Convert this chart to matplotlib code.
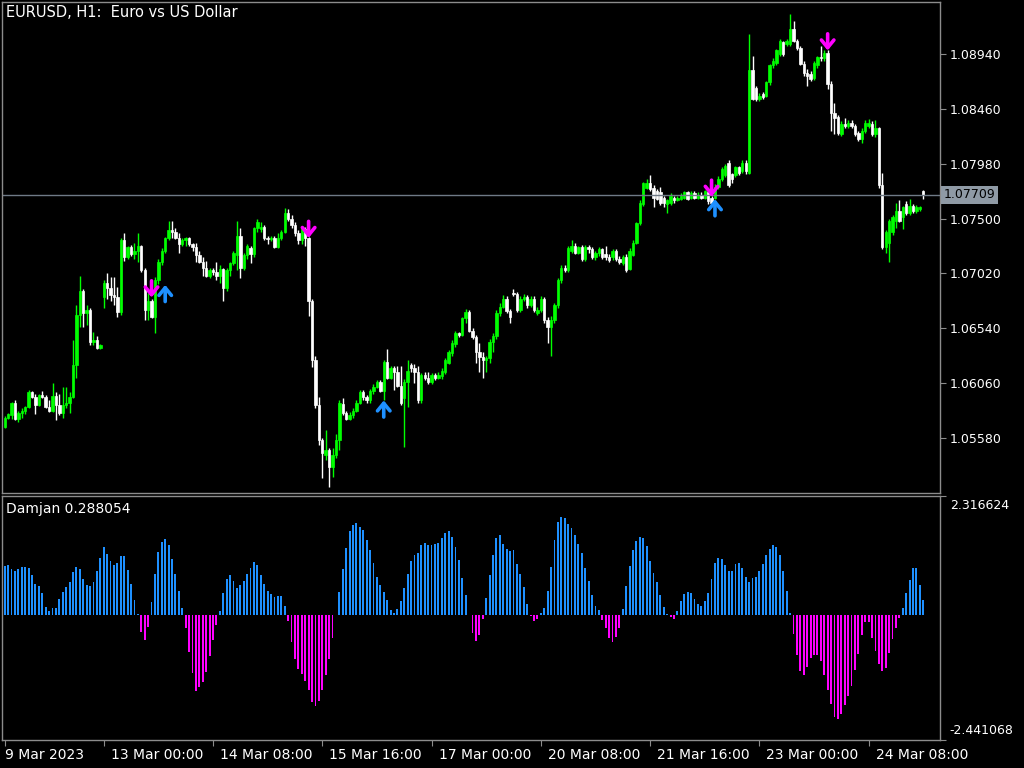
import numpy as np
import matplotlib.pyplot as plt
from matplotlib.transforms import blended_transform_factory, ScaledTranslation

# ===== EURUSD H1 candles =====
opens = [
    1.0568, 1.0576, 1.0578, 1.0589, 1.0575, 1.0580, 1.0582, 1.0585, 1.0598, 1.0594,
    1.0587, 1.0596, 1.0594, 1.0585, 1.0582, 1.0595, 1.0587, 1.0580, 1.0587, 1.0589,
    1.0594, 1.0622, 1.0666, 1.0687, 1.0667, 1.0670, 1.0642, 1.0644, 1.0637, 1.0681,
    1.0694, 1.0689, 1.0683, 1.0681, 1.0668, 1.0731, 1.0716, 1.0725, 1.0719, 1.0722,
    1.0726, 1.0705, 1.0670, 1.0678, 1.0664, 1.0696, 1.0712, 1.0722, 1.0733, 1.0740,
    1.0738, 1.0733, 1.0728, 1.0731, 1.0733, 1.0728, 1.0725, 1.0718, 1.0712, 1.0707,
    1.0700, 1.0705, 1.0703, 1.0700, 1.0706, 1.0689, 1.0705, 1.0711, 1.0718, 1.0735,
    1.0707, 1.0718, 1.0724, 1.0719, 1.0742, 1.0741, 1.0743, 1.0733, 1.0732, 1.0733,
    1.0725, 1.0733, 1.0738, 1.0755, 1.0750, 1.0744, 1.0737, 1.0731, 1.0741, 1.0733,
    1.0678, 1.0626, 1.0587, 1.0556, 1.0543, 1.0548, 1.0533, 1.0543, 1.0556, 1.0588,
    1.0580, 1.0575, 1.0578, 1.0582, 1.0589, 1.0598, 1.0594, 1.0591, 1.0599, 1.0603,
    1.0607, 1.0599, 1.0625, 1.0611, 1.0619, 1.0616, 1.0604, 1.0593, 1.0607, 1.0622,
    1.0619, 1.0616, 1.0591, 1.0613, 1.0611, 1.0607, 1.0613, 1.0611, 1.0612, 1.0616,
    1.0624, 1.0632, 1.0640, 1.0650, 1.0648, 1.0663, 1.0668, 1.0652, 1.0646, 1.0633,
    1.0629, 1.0626, 1.0628, 1.0642, 1.0647, 1.0667, 1.0673, 1.0680, 1.0669, 1.0685,
    1.0684, 1.0670, 1.0680, 1.0681, 1.0674, 1.0680, 1.0667, 1.0670, 1.0680, 1.0661,
    1.0655, 1.0661, 1.0674, 1.0696, 1.0707, 1.0705, 1.0722, 1.0726, 1.0720, 1.0725,
    1.0715, 1.0725, 1.0723, 1.0716, 1.0720, 1.0723, 1.0719, 1.0716, 1.0716, 1.0722,
    1.0715, 1.0711, 1.0716, 1.0706, 1.0718, 1.0729, 1.0746, 1.0763, 1.0777, 1.0781,
    1.0777, 1.0774, 1.0773, 1.0768, 1.0763, 1.0764, 1.0768, 1.0766, 1.0767, 1.0768,
    1.0773, 1.0768, 1.0772, 1.0768, 1.0771, 1.0768, 1.0773, 1.0768, 1.0768, 1.0778,
    1.0785, 1.0788, 1.0799, 1.0789, 1.0788, 1.0795, 1.0792, 1.0799, 1.0790, 1.0880,
    1.0864, 1.0855, 1.0859, 1.0857, 1.0869, 1.0884, 1.0886, 1.0894, 1.0904, 1.0903,
    1.0903, 1.0916, 1.0905, 1.0899, 1.0885, 1.0877, 1.0876, 1.0873, 1.0884, 1.0891,
    1.0890, 1.0895, 1.0868, 1.0842, 1.0839, 1.0824, 1.0833, 1.0831, 1.0834, 1.0831,
    1.0825, 1.0820, 1.0827, 1.0831, 1.0833, 1.0824, 1.0829, 1.0779, 1.0725, 1.0729,
    1.0738, 1.0748, 1.0757, 1.0751, 1.0763, 1.0755, 1.0761, 1.0757, 1.0758, 1.0774,
]
highs = [
    1.0577, 1.0580, 1.0590, 1.0591, 1.0582, 1.0584, 1.0586, 1.0600, 1.0599, 1.0597,
    1.0597, 1.0599, 1.0596, 1.0591, 1.0606, 1.0598, 1.0597, 1.0603, 1.0603, 1.0598,
    1.0644, 1.0674, 1.0700, 1.0688, 1.0674, 1.0672, 1.0651, 1.0647, 1.0640, 1.0696,
    1.0702, 1.0699, 1.0699, 1.0690, 1.0733, 1.0737, 1.0726, 1.0727, 1.0729, 1.0737,
    1.0727, 1.0707, 1.0685, 1.0680, 1.0699, 1.0715, 1.0724, 1.0734, 1.0748, 1.0748,
    1.0742, 1.0737, 1.0733, 1.0734, 1.0734, 1.0729, 1.0729, 1.0722, 1.0716, 1.0713,
    1.0707, 1.0707, 1.0712, 1.0709, 1.0707, 1.0707, 1.0712, 1.0722, 1.0748, 1.0742,
    1.0720, 1.0728, 1.0726, 1.0743, 1.0750, 1.0747, 1.0744, 1.0735, 1.0735, 1.0735,
    1.0737, 1.0740, 1.0759, 1.0758, 1.0753, 1.0747, 1.0740, 1.0743, 1.0743, 1.0734,
    1.0680, 1.0630, 1.0594, 1.0558, 1.0565, 1.0549, 1.0549, 1.0562, 1.0591, 1.0593,
    1.0582, 1.0581, 1.0584, 1.0591, 1.0600, 1.0600, 1.0596, 1.0601, 1.0605, 1.0609,
    1.0609, 1.0626, 1.0636, 1.0621, 1.0621, 1.0621, 1.0621, 1.0610, 1.0626, 1.0624,
    1.0623, 1.0621, 1.0615, 1.0616, 1.0616, 1.0615, 1.0615, 1.0616, 1.0619, 1.0628,
    1.0635, 1.0644, 1.0652, 1.0651, 1.0664, 1.0671, 1.0670, 1.0654, 1.0648, 1.0641,
    1.0633, 1.0630, 1.0645, 1.0650, 1.0670, 1.0676, 1.0683, 1.0682, 1.0671, 1.0688,
    1.0686, 1.0682, 1.0684, 1.0683, 1.0682, 1.0682, 1.0673, 1.0682, 1.0681, 1.0664,
    1.0665, 1.0676, 1.0698, 1.0709, 1.0709, 1.0726, 1.0731, 1.0729, 1.0726, 1.0727,
    1.0727, 1.0727, 1.0725, 1.0722, 1.0725, 1.0724, 1.0726, 1.0719, 1.0723, 1.0723,
    1.0717, 1.0718, 1.0719, 1.0724, 1.0731, 1.0747, 1.0766, 1.0782, 1.0785, 1.0788,
    1.0779, 1.0776, 1.0778, 1.0770, 1.0767, 1.0772, 1.0770, 1.0770, 1.0772, 1.0774,
    1.0774, 1.0774, 1.0774, 1.0773, 1.0773, 1.0775, 1.0774, 1.0770, 1.0780, 1.0787,
    1.0795, 1.0798, 1.0801, 1.0790, 1.0796, 1.0796, 1.0801, 1.0801, 1.0911, 1.0892,
    1.0866, 1.0860, 1.0861, 1.0870, 1.0885, 1.0890, 1.0898, 1.0907, 1.0905, 1.0907,
    1.0929, 1.0923, 1.0907, 1.0901, 1.0888, 1.0881, 1.0879, 1.0888, 1.0892, 1.0901,
    1.0897, 1.0897, 1.0870, 1.0851, 1.0841, 1.0835, 1.0838, 1.0836, 1.0836, 1.0833,
    1.0827, 1.0829, 1.0836, 1.0837, 1.0835, 1.0836, 1.0830, 1.0790, 1.0740, 1.0750,
    1.0753, 1.0764, 1.0766, 1.0761, 1.0765, 1.0767, 1.0763, 1.0762, 1.0761, 1.0775,
]
lows = [
    1.0567, 1.0575, 1.0575, 1.0574, 1.0572, 1.0576, 1.0579, 1.0584, 1.0593, 1.0579,
    1.0586, 1.0593, 1.0584, 1.0581, 1.0581, 1.0574, 1.0578, 1.0576, 1.0584, 1.0580,
    1.0593, 1.0611, 1.0655, 1.0655, 1.0657, 1.0639, 1.0639, 1.0636, 1.0636, 1.0672,
    1.0680, 1.0678, 1.0674, 1.0664, 1.0666, 1.0713, 1.0715, 1.0717, 1.0715, 1.0712,
    1.0703, 1.0661, 1.0661, 1.0663, 1.0650, 1.0693, 1.0709, 1.0720, 1.0731, 1.0733,
    1.0732, 1.0720, 1.0726, 1.0726, 1.0726, 1.0722, 1.0712, 1.0711, 1.0700, 1.0699,
    1.0698, 1.0701, 1.0696, 1.0694, 1.0678, 1.0687, 1.0700, 1.0709, 1.0705, 1.0698,
    1.0705, 1.0715, 1.0711, 1.0716, 1.0738, 1.0738, 1.0731, 1.0728, 1.0730, 1.0724,
    1.0724, 1.0731, 1.0737, 1.0748, 1.0742, 1.0735, 1.0728, 1.0728, 1.0726, 1.0665,
    1.0620, 1.0584, 1.0552, 1.0523, 1.0539, 1.0515, 1.0524, 1.0541, 1.0548, 1.0578,
    1.0574, 1.0574, 1.0576, 1.0581, 1.0588, 1.0591, 1.0589, 1.0589, 1.0597, 1.0602,
    1.0598, 1.0591, 1.0610, 1.0610, 1.0600, 1.0603, 1.0587, 1.0550, 1.0585, 1.0616,
    1.0606, 1.0589, 1.0589, 1.0609, 1.0605, 1.0605, 1.0609, 1.0610, 1.0610, 1.0614,
    1.0623, 1.0630, 1.0638, 1.0646, 1.0647, 1.0659, 1.0651, 1.0645, 1.0624, 1.0616,
    1.0611, 1.0616, 1.0624, 1.0633, 1.0645, 1.0665, 1.0672, 1.0667, 1.0659, 1.0682,
    1.0668, 1.0668, 1.0678, 1.0672, 1.0673, 1.0668, 1.0666, 1.0668, 1.0659, 1.0641,
    1.0630, 1.0659, 1.0672, 1.0694, 1.0703, 1.0703, 1.0720, 1.0719, 1.0719, 1.0713,
    1.0713, 1.0720, 1.0715, 1.0714, 1.0717, 1.0715, 1.0714, 1.0712, 1.0714, 1.0713,
    1.0710, 1.0709, 1.0703, 1.0705, 1.0717, 1.0728, 1.0744, 1.0761, 1.0776, 1.0774,
    1.0760, 1.0766, 1.0762, 1.0760, 1.0755, 1.0762, 1.0764, 1.0765, 1.0766, 1.0767,
    1.0766, 1.0767, 1.0767, 1.0767, 1.0767, 1.0767, 1.0763, 1.0762, 1.0767, 1.0776,
    1.0783, 1.0786, 1.0778, 1.0781, 1.0786, 1.0788, 1.0790, 1.0789, 1.0789, 1.0854,
    1.0853, 1.0853, 1.0855, 1.0856, 1.0867, 1.0882, 1.0884, 1.0892, 1.0892, 1.0901,
    1.0901, 1.0904, 1.0897, 1.0884, 1.0875, 1.0866, 1.0870, 1.0871, 1.0882, 1.0888,
    1.0888, 1.0863, 1.0827, 1.0824, 1.0823, 1.0822, 1.0829, 1.0829, 1.0829, 1.0822,
    1.0818, 1.0816, 1.0825, 1.0829, 1.0822, 1.0821, 1.0777, 1.0723, 1.0720, 1.0712,
    1.0736, 1.0742, 1.0747, 1.0741, 1.0753, 1.0753, 1.0755, 1.0755, 1.0757, 1.0767,
]
closes = [
    1.0576, 1.0579, 1.0589, 1.0575, 1.0580, 1.0582, 1.0585, 1.0598, 1.0594, 1.0587,
    1.0596, 1.0594, 1.0585, 1.0582, 1.0595, 1.0587, 1.0580, 1.0587, 1.0589, 1.0594,
    1.0622, 1.0666, 1.0687, 1.0667, 1.0670, 1.0642, 1.0644, 1.0637, 1.0639, 1.0694,
    1.0689, 1.0683, 1.0681, 1.0668, 1.0731, 1.0716, 1.0725, 1.0719, 1.0722, 1.0726,
    1.0705, 1.0670, 1.0678, 1.0664, 1.0696, 1.0712, 1.0722, 1.0733, 1.0740, 1.0738,
    1.0733, 1.0728, 1.0731, 1.0733, 1.0728, 1.0725, 1.0718, 1.0712, 1.0707, 1.0700,
    1.0705, 1.0703, 1.0700, 1.0706, 1.0689, 1.0705, 1.0711, 1.0720, 1.0735, 1.0707,
    1.0718, 1.0726, 1.0719, 1.0742, 1.0747, 1.0743, 1.0733, 1.0732, 1.0733, 1.0725,
    1.0733, 1.0738, 1.0755, 1.0750, 1.0744, 1.0737, 1.0731, 1.0741, 1.0733, 1.0678,
    1.0626, 1.0587, 1.0556, 1.0545, 1.0548, 1.0533, 1.0543, 1.0556, 1.0589, 1.0580,
    1.0575, 1.0578, 1.0582, 1.0589, 1.0598, 1.0594, 1.0591, 1.0599, 1.0603, 1.0607,
    1.0599, 1.0625, 1.0611, 1.0619, 1.0616, 1.0604, 1.0589, 1.0607, 1.0617, 1.0619,
    1.0616, 1.0591, 1.0613, 1.0611, 1.0607, 1.0613, 1.0611, 1.0613, 1.0617, 1.0626,
    1.0633, 1.0641, 1.0650, 1.0648, 1.0663, 1.0668, 1.0652, 1.0646, 1.0633, 1.0629,
    1.0626, 1.0628, 1.0642, 1.0647, 1.0667, 1.0673, 1.0680, 1.0669, 1.0664, 1.0684,
    1.0670, 1.0680, 1.0681, 1.0674, 1.0680, 1.0670, 1.0670, 1.0680, 1.0661, 1.0655,
    1.0661, 1.0674, 1.0696, 1.0707, 1.0705, 1.0724, 1.0726, 1.0720, 1.0725, 1.0715,
    1.0725, 1.0723, 1.0716, 1.0720, 1.0723, 1.0716, 1.0716, 1.0714, 1.0722, 1.0715,
    1.0712, 1.0716, 1.0705, 1.0722, 1.0729, 1.0746, 1.0764, 1.0781, 1.0781, 1.0776,
    1.0768, 1.0767, 1.0764, 1.0764, 1.0766, 1.0770, 1.0766, 1.0768, 1.0770, 1.0773,
    1.0767, 1.0772, 1.0768, 1.0771, 1.0768, 1.0774, 1.0765, 1.0764, 1.0778, 1.0785,
    1.0793, 1.0796, 1.0779, 1.0785, 1.0795, 1.0790, 1.0799, 1.0792, 1.0880, 1.0855,
    1.0855, 1.0857, 1.0856, 1.0869, 1.0884, 1.0888, 1.0897, 1.0905, 1.0894, 1.0905,
    1.0916, 1.0905, 1.0899, 1.0885, 1.0877, 1.0875, 1.0872, 1.0886, 1.0891, 1.0890,
    1.0895, 1.0868, 1.0842, 1.0838, 1.0825, 1.0833, 1.0831, 1.0834, 1.0831, 1.0824,
    1.0820, 1.0827, 1.0834, 1.0834, 1.0824, 1.0829, 1.0779, 1.0725, 1.0738, 1.0748,
    1.0751, 1.0757, 1.0748, 1.0760, 1.0755, 1.0761, 1.0757, 1.0760, 1.0760, 1.07709,
]

# ===== Damjan indicator histogram =====
damjan = [
    0.96, 0.98, 0.90, 0.85, 0.90, 0.93, 0.93, 0.91, 0.77, 0.60,
    0.57, 0.42, 0.16, 0.08, 0.13, 0.13, 0.30, 0.44, 0.55, 0.63,
    0.83, 0.94, 0.90, 0.70, 0.58, 0.57, 0.63, 0.85, 1.10, 1.33,
    1.18, 1.04, 0.98, 1.01, 1.15, 1.15, 0.88, 0.61, 0.29, 0.01,
    -0.34, -0.49, -0.23, 0.25, 0.79, 1.22, 1.41, 1.48, 1.36, 1.09,
    0.79, 0.46, 0.14, -0.26, -0.73, -1.14, -1.48, -1.41, -1.31, -1.11,
    -0.81, -0.49, -0.20, 0.08, 0.43, 0.70, 0.78, 0.66, 0.53, 0.58,
    0.66, 0.80, 0.91, 1.03, 0.98, 0.78, 0.61, 0.47, 0.41, 0.34,
    0.36, 0.36, 0.18, -0.13, -0.53, -0.86, -1.05, -1.15, -1.29, -1.46,
    -1.70, -1.77, -1.68, -1.46, -1.18, -0.86, -0.46, -0.01, 0.45, 0.90,
    1.31, 1.63, 1.76, 1.79, 1.72, 1.66, 1.46, 1.27, 1.01, 0.74,
    0.58, 0.44, 0.29, 0.09, 0.03, 0.11, 0.26, 0.53, 0.80, 1.04,
    1.16, 1.21, 1.36, 1.40, 1.36, 1.36, 1.39, 1.40, 1.49, 1.59,
    1.63, 1.51, 1.33, 1.06, 0.71, 0.38, -0.01, -0.36, -0.51, -0.40,
    -0.08, 0.33, 0.77, 1.16, 1.50, 1.55, 1.39, 1.29, 1.25, 1.27,
    0.99, 0.80, 0.55, 0.21, -0.02, -0.13, -0.08, 0.03, 0.14, 0.47,
    0.94, 1.46, 1.81, 1.91, 1.88, 1.77, 1.70, 1.55, 1.38, 1.20,
    0.92, 0.66, 0.38, 0.18, 0.10, -0.10, -0.26, -0.46, -0.53, -0.43,
    -0.25, 0.12, 0.56, 0.96, 1.27, 1.44, 1.52, 1.49, 1.35, 1.05,
    0.81, 0.63, 0.38, 0.16, 0.02, -0.05, -0.08, 0.08, 0.26, 0.41,
    0.45, 0.43, 0.31, 0.21, 0.18, 0.26, 0.42, 0.70, 1.01, 1.11,
    1.09, 0.98, 0.85, 0.86, 0.99, 1.01, 0.92, 0.74, 0.63, 0.71,
    0.73, 0.85, 0.99, 1.16, 1.29, 1.36, 1.33, 1.16, 0.85, 0.46,
    0.03, -0.38, -0.79, -1.10, -1.18, -1.01, -0.85, -0.78, -0.78, -0.90,
    -1.18, -1.46, -1.73, -2.00, -2.04, -1.94, -1.75, -1.59, -1.39, -1.08,
    -0.77, -0.39, -0.14, -0.14, -0.46, -0.71, -0.96, -1.10, -1.04, -0.75,
    -0.47, -0.25, -0.07, 0.13, 0.42, 0.68, 0.91, 0.91, 0.59, 0.288054,
]

# signal arrows: bar index and arrow tip price
sell_bars = [43, 89, 207, 241]
sell_tips = [1.0681, 1.0733, 1.0769, 1.0897]
buy_bars = [47, 111, 208]
buy_tips = [1.0692, 1.0591, 1.0767]

bid_price = 1.07709
price_ticks = [1.05580, 1.06060, 1.06540, 1.07020, 1.07500, 1.07980, 1.08460, 1.08940]
osc_max, osc_min = 2.316624, -2.441068

time_bars = [0, 29, 61, 93, 125, 157, 189, 221, 253]
time_labels = ['9 Mar 2023', '13 Mar 00:00', '14 Mar 08:00', '15 Mar 16:00', '17 Mar 00:00',
               '20 Mar 08:00', '21 Mar 16:00', '23 Mar 00:00', '24 Mar 08:00']

# ===== Style =====
BG = 'black'
FRAME = '#8c8c8c'
UP = '#00ff00'
DOWN = 'white'
BLUE = '#1e90ff'
MAGENTA = '#ff00ff'
plt.rcParams['font.family'] = ['DejaVu Sans']
plt.rcParams['font.size'] = 9

W, H = 1024, 768


def px_rect(left, top, right, bottom):
    return [left / W, 1 - bottom / H, (right - left) / W, (bottom - top) / H]


fig = plt.figure(figsize=(W / 100, H / 100), dpi=100, facecolor=BG)
ax = fig.add_axes(px_rect(2, 2, 940, 493), facecolor=BG)
ax2 = fig.add_axes(px_rect(2, 496, 940, 740), facecolor=BG, sharex=ax)

o = np.array(opens)
h = np.array(highs)
l = np.array(lows)
c = np.array(closes)
x = np.arange(len(c))
up = c >= o
col = np.where(up, UP, DOWN)

# candles
ax.vlines(x, l, h, colors=col, linewidth=1)
ax.bar(x, c - o, bottom=o, width=0.7, color=col, edgecolor=col, linewidth=0.5)

# bid line
ax.axhline(bid_price, color='#6f7a86', linewidth=1)

# arrows
for b, tip in zip(sell_bars, sell_tips):
    ax.annotate('', xy=(b, tip), xytext=(0, 12), textcoords='offset points',
                arrowprops=dict(arrowstyle='->,head_length=0.55,head_width=0.45',
                                color=MAGENTA, lw=2.6, mutation_scale=10,
                                shrinkA=0, shrinkB=0))
for b, tip in zip(buy_bars, buy_tips):
    ax.annotate('', xy=(b, tip), xytext=(0, -12), textcoords='offset points',
                arrowprops=dict(arrowstyle='->,head_length=0.55,head_width=0.45',
                                color=BLUE, lw=2.6, mutation_scale=10,
                                shrinkA=0, shrinkB=0))

ax.set_xlim(-0.79, 273.9)
ax.set_ylim(1.05100, 1.09394)

# histogram
v = np.array(damjan)
hcol = np.where(v >= 0, BLUE, MAGENTA)
ax2.bar(x, v, width=0.55, color=hcol, linewidth=0)
ax2.set_ylim(osc_min, osc_max)

for a in (ax, ax2):
    for s in a.spines.values():
        s.set_color(FRAME)
        s.set_linewidth(1)
    a.yaxis.tick_right()
    a.tick_params(axis='y', colors=FRAME, labelcolor='white', length=4, pad=3, labelsize=9)

ax.set_yticks(price_ticks)
ax.set_yticklabels([f'{p:.5f}' for p in price_ticks])
ax.tick_params(axis='x', bottom=False, labelbottom=False)

ax2.set_yticks([osc_max, osc_min])
ax2.set_yticklabels([f'{osc_max:.6f}', f'{osc_min:.6f}'])
lbls = ax2.get_yticklabels()
lbls[0].set_va('top')
lbls[0].set_transform(lbls[0].get_transform() + ScaledTranslation(0, -3 / 100, fig.dpi_scale_trans))
lbls[1].set_va('bottom')
lbls[1].set_transform(lbls[1].get_transform() + ScaledTranslation(0, 3 / 100, fig.dpi_scale_trans))

# time axis
ax2.set_xticks(time_bars)
ax2.set_xticklabels(time_labels)
ax2.tick_params(axis='x', colors=FRAME, labelcolor='white', length=4, pad=1.5, labelsize=10)
for i, t in enumerate(ax2.get_xticklabels()):
    t.set_ha('left')
    dx = 0 if i == 0 else 7
    t.set_transform(t.get_transform() + ScaledTranslation(dx / 100, 0, fig.dpi_scale_trans))

# bid price box on the price scale
tr = blended_transform_factory(ax.transAxes, ax.transData)
ax.text(1.004, bid_price, f'{bid_price:.5f}', transform=tr, ha='left', va='center',
        color='black', fontsize=9, clip_on=False,
        bbox=dict(boxstyle='square,pad=0.2', facecolor='#8f9aa5', edgecolor='none'))

# titles
ax.text(0.004, 0.993, 'EURUSD, H1:  Euro vs US Dollar', transform=ax.transAxes,
        ha='left', va='top', color='white', fontsize=10.5)
ax2.text(0.004, 0.975, f'Damjan {damjan[-1]:.6f}', transform=ax2.transAxes,
         ha='left', va='top', color='white', fontsize=10)

fig.savefig('out.png', dpi=100, facecolor=BG)
